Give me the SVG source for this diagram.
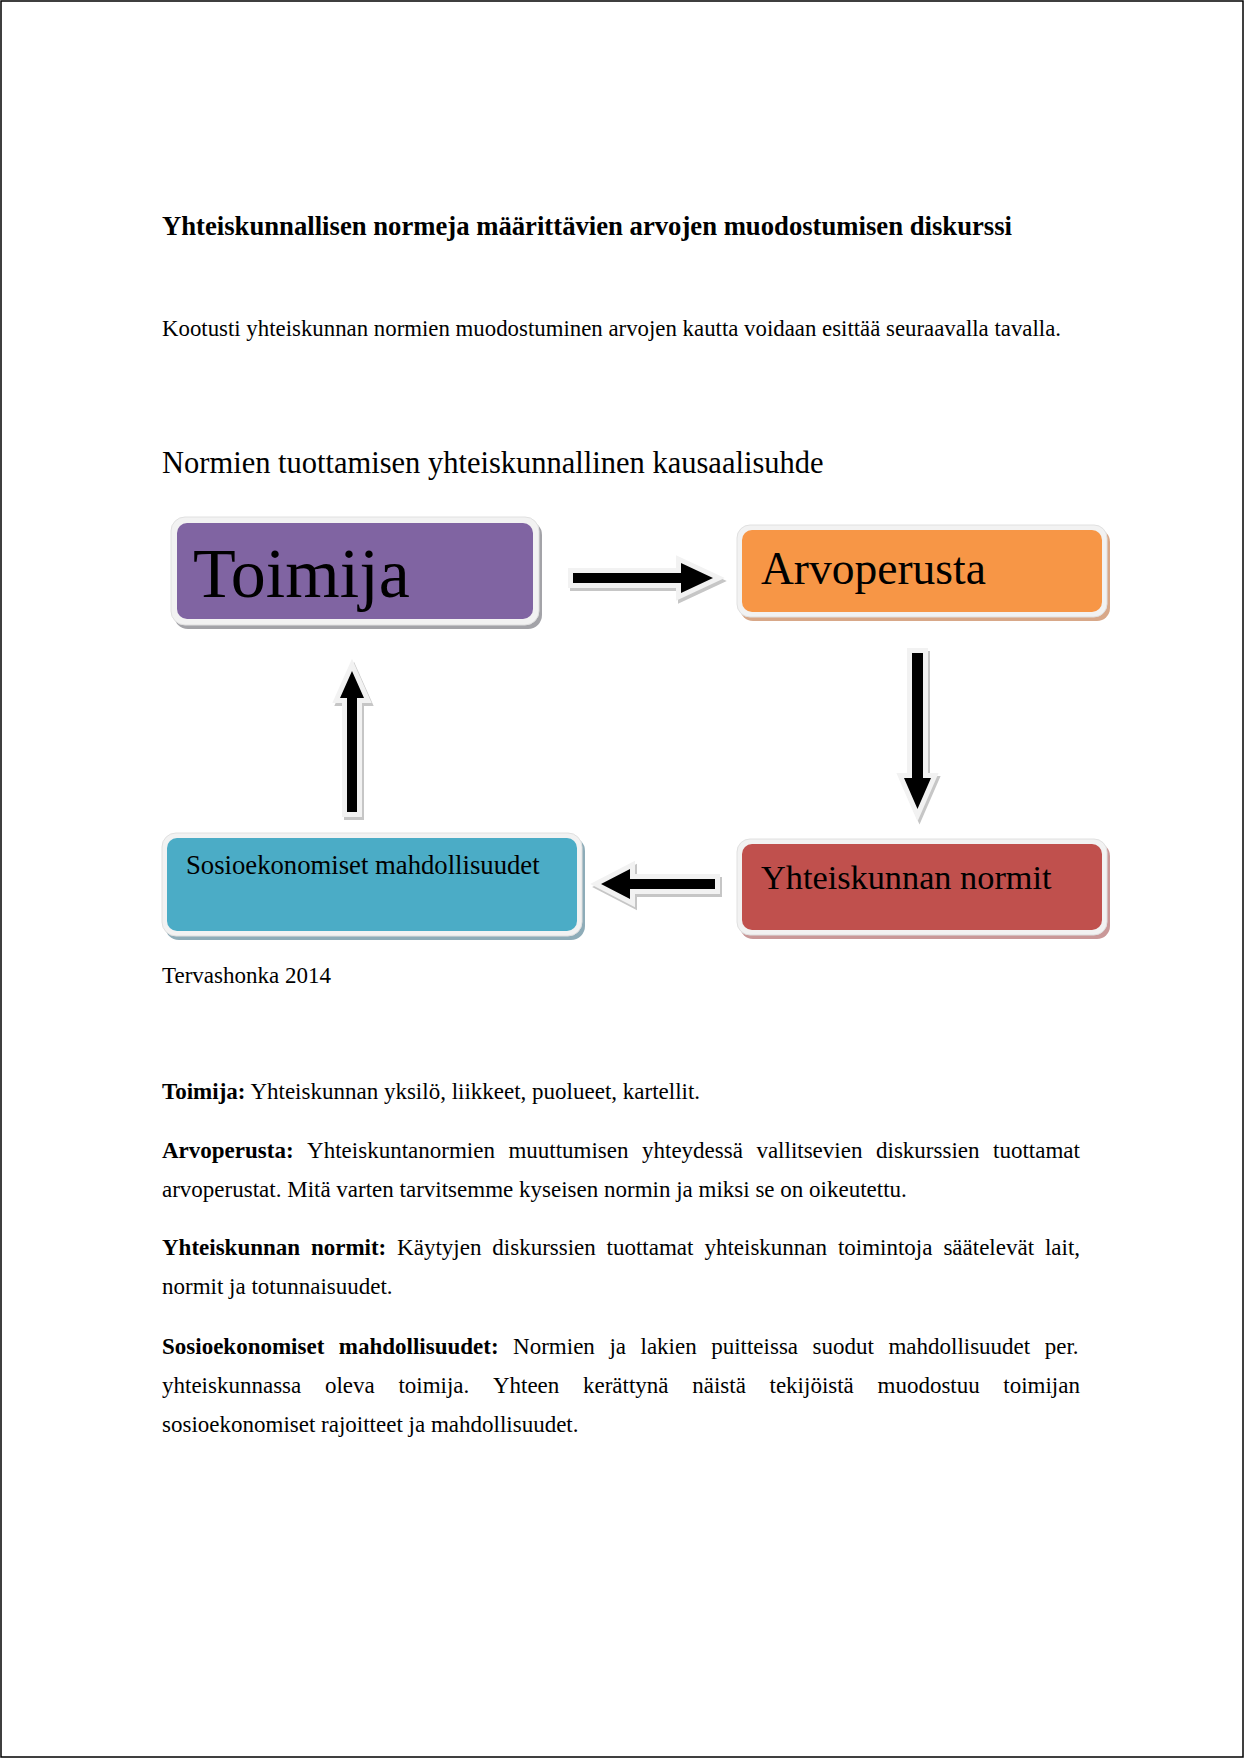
<svg xmlns="http://www.w3.org/2000/svg" width="1244" height="1758" viewBox="0 0 1244 1758">
<style>
.t{font-family:"Liberation Serif","Times New Roman",serif;fill:#000}
.b{font-weight:bold}
.body{font-size:23px}
.outer{fill:#f2f2f2;stroke:#e0e0e0;stroke-width:1}
.ashadow{fill:#c6c6c6;stroke:#c6c6c6;stroke-width:10;stroke-linejoin:miter}
.aout{fill:#f2f2f2;stroke:#f2f2f2;stroke-width:10;stroke-linejoin:miter}
.afill{fill:#000}
</style>
<rect x="1" y="1" width="1242" height="1756" fill="#fff" stroke="#000" stroke-width="1.5"/>

<text class="t b" x="162" y="235" font-size="26.7" textLength="850" lengthAdjust="spacingAndGlyphs">Yhteiskunnallisen normeja määrittävien arvojen muodostumisen diskurssi</text>
<text class="t body" x="162" y="336" textLength="899" lengthAdjust="spacingAndGlyphs">Kootusti yhteiskunnan normien muodostuminen arvojen kautta voidaan esittää seuraavalla tavalla.</text>
<text class="t" x="162" y="473" font-size="30.5">Normien tuottamisen yhteiskunnallinen kausaalisuhde</text>

<g id="node-toimija">
<rect x="174" y="521" width="368" height="108" rx="14" fill="#a3a3a8"/>
<rect class="outer" x="171" y="517" width="368" height="108" rx="14"/>
<rect x="177" y="523" width="356" height="96" rx="10" fill="#8064A2"/>
<text class="t" x="193" y="597" font-size="70">Toimija</text>
</g>

<g id="node-arvoperusta">
<rect x="740" y="529" width="370" height="92" rx="13" fill="#d8a889"/>
<rect class="outer" x="737" y="525" width="370" height="92" rx="13"/>
<rect x="742" y="530" width="360" height="82" rx="10" fill="#F79646"/>
<text class="t" x="761" y="584" font-size="45.5">Arvoperusta</text>
</g>

<g id="node-normit">
<rect x="740" y="843" width="370" height="96" rx="13" fill="#c99898"/>
<rect class="outer" x="737" y="839" width="370" height="96" rx="13"/>
<rect x="742" y="844" width="360" height="86" rx="10" fill="#C0504D"/>
<text class="t" x="761" y="889" font-size="34.3">Yhteiskunnan normit</text>
</g>

<g id="node-sosio">
<rect x="165" y="837" width="420" height="103" rx="14" fill="#8eacb8"/>
<rect class="outer" x="162" y="833" width="420" height="103" rx="14"/>
<rect x="167" y="838" width="410" height="93" rx="10" fill="#4BACC6"/>
<text class="t" x="186" y="874" font-size="26.7">Sosioekonomiset mahdollisuudet</text>
</g>

<g id="connectors">
<g id="arrow-toimija-arvoperusta">
<polygon class="ashadow" transform="translate(2,3)" points="573,573 681,573 681,563 713,578 681,593 681,583 573,583"/>
<polygon class="aout" points="573,573 681,573 681,563 713,578 681,593 681,583 573,583"/>
<polygon class="afill" points="573,573 681,573 681,563 713,578 681,593 681,583 573,583"/>
</g>
<g id="arrow-arvoperusta-normit">
<polygon class="ashadow" transform="translate(2,3)" points="912,653 923,653 923,778 931,778 917.5,809 904,778 912,778"/>
<polygon class="aout" points="912,653 923,653 923,778 931,778 917.5,809 904,778 912,778"/>
<polygon class="afill" points="912,653 923,653 923,778 931,778 917.5,809 904,778 912,778"/>
</g>
<g id="arrow-normit-sosio">
<polygon class="ashadow" transform="translate(2,3)" points="715,879 630,879 630,869 601,884 630,899 630,889 715,889"/>
<polygon class="aout" points="715,879 630,879 630,869 601,884 630,899 630,889 715,889"/>
<polygon class="afill" points="715,879 630,879 630,869 601,884 630,899 630,889 715,889"/>
</g>
<g id="arrow-sosio-toimija">
<polygon class="ashadow" transform="translate(2,3)" points="347,812 357,812 357,698 364,698 352,671 340,698 347,698"/>
<polygon class="aout" points="347,812 357,812 357,698 364,698 352,671 340,698 347,698"/>
<polygon class="afill" points="347,812 357,812 357,698 364,698 352,671 340,698 347,698"/>
</g>
</g>

<text class="t body" x="162" y="983">Tervashonka 2014</text>

<text class="t body" x="162" y="1099"><tspan class="b">Toimija:</tspan> Yhteiskunnan yksilö, liikkeet, puolueet, kartellit.</text>

<text class="t body" y="1158"><tspan class="b" x="162">Arvoperusta:</tspan><tspan x="307.1">Yhteiskuntanormien</tspan><tspan x="508.4">muuttumisen</tspan><tspan x="642">yhteydessä</tspan><tspan x="756.4">vallitsevien</tspan><tspan x="876">diskurssien</tspan><tspan x="993">tuottamat</tspan></text>
<text class="t body" x="162" y="1197">arvoperustat. Mitä varten tarvitsemme kyseisen normin ja miksi se on oikeutettu.</text>

<text class="t body" y="1255"><tspan class="b" x="162">Yhteiskunnan</tspan><tspan class="b" x="310.9">normit:</tspan><tspan x="397.1">Käytyjen</tspan><tspan x="492.3">diskurssien</tspan><tspan x="606.6">tuottamat</tspan><tspan x="704.4">yhteiskunnan</tspan><tspan x="837.9">toimintoja</tspan><tspan x="943.4">säätelevät</tspan><tspan x="1044.9">lait,</tspan></text>
<text class="t body" x="162" y="1294">normit ja totunnaisuudet.</text>

<text class="t body" y="1354"><tspan class="b" x="162">Sosioekonomiset</tspan><tspan class="b" x="338.8">mahdollisuudet:</tspan><tspan x="513.1">Normien</tspan><tspan x="609.4">ja</tspan><tspan x="640.5">lakien</tspan><tspan x="711.2">puitteissa</tspan><tspan x="812.6">suodut</tspan><tspan x="888.4">mahdollisuudet</tspan><tspan x="1044.7">per.</tspan></text>
<text class="t body" y="1393"><tspan x="162">yhteiskunnassa</tspan><tspan x="324.9">oleva</tspan><tspan x="398.4">toimija.</tspan><tspan x="492.9">Yhteen</tspan><tspan x="583">kerättynä</tspan><tspan x="692.2">näistä</tspan><tspan x="769.5">tekijöistä</tspan><tspan x="877.5">muodostuu</tspan><tspan x="1003.3">toimijan</tspan></text>
<text class="t body" x="162" y="1432">sosioekonomiset rajoitteet ja mahdollisuudet.</text>
</svg>
